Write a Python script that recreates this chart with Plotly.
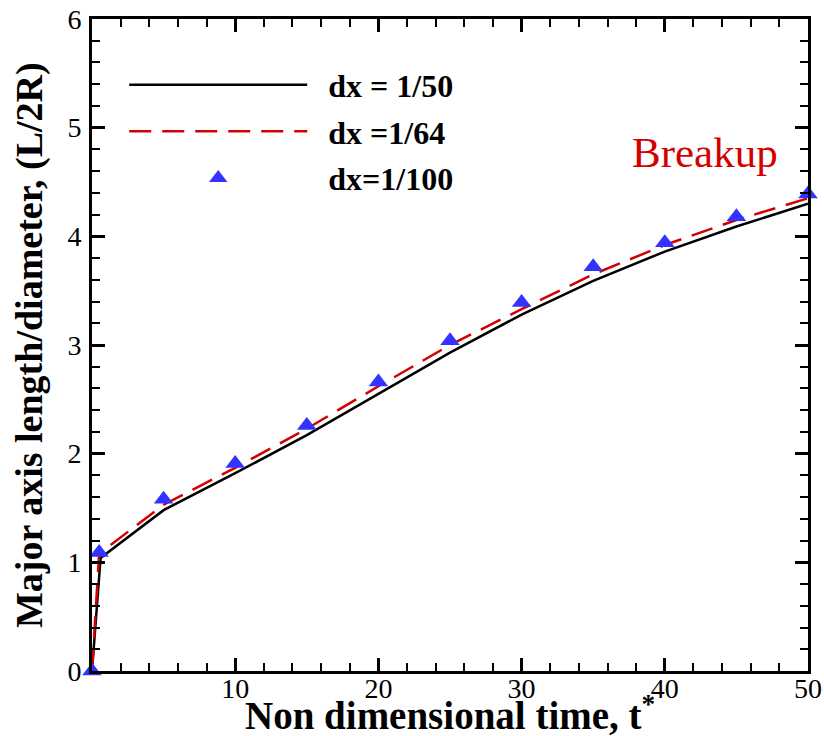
import plotly.graph_objects as go

t_50 = [0, 0.6, 5, 10, 15, 20, 25, 30, 35, 40, 45, 50]
L_50 = [0, 1.04, 1.48, 1.82, 2.17, 2.55, 2.93, 3.28, 3.59, 3.86, 4.09, 4.30]

t_64 = [0, 0.5, 5, 10, 15, 20, 25, 30, 35, 40, 45, 50]
L_64 = [0, 1.08, 1.53, 1.87, 2.23, 2.62, 3.00, 3.33, 3.65, 3.92, 4.15, 4.35]

t_100 = [0, 0.5, 5, 10, 15, 20, 25, 30, 35, 40, 45, 50]
L_100 = [0, 1.09, 1.58, 1.91, 2.26, 2.66, 3.04, 3.39, 3.72, 3.94, 4.18, 4.39]

x_ticks = [10, 20, 30, 40, 50]
y_ticks = [0, 1, 2, 3, 4, 5, 6]

FONT = "Liberation Serif"
NB = "\u00a0\u00a0"

fig = go.Figure()
fig.add_trace(go.Scatter(x=t_50, y=L_50, mode="lines", name=NB + "dx = 1/50",
                         line=dict(color="black", width=2.5), legendgroup="a"))
fig.add_trace(go.Scatter(x=t_64, y=L_64, mode="lines", name=NB + "dx =1/64",
                         line=dict(color="#d40000", width=2.5, dash="22px,11px"), legendgroup="b"))
fig.add_trace(go.Scatter(x=t_100, y=L_100, mode="markers", name=NB + "dx=1/100",
                         marker=dict(symbol="triangle-up", size=17, color="#3333ff"),
                         cliponaxis=False, legendgroup="c"))
# invisible trace so the mirrored (top/right) axes carrying minor ticks are drawn
fig.add_trace(go.Scatter(x=t_50, y=L_50, xaxis="x2", yaxis="y2", mode="markers",
                         marker=dict(opacity=0), showlegend=False, hoverinfo="skip"))

fig.add_annotation(x=42.8, y=4.77, text="Breakup", showarrow=False,
                   font=dict(family=FONT, size=43, color="#d40000"))

# axis titles as annotations for exact placement
fig.add_annotation(x=0.5, y=0, xref="paper", yref="paper", yanchor="middle",
                   yshift=-42, showarrow=False,
                   text="<b>Non dimensional time, t<sup>*</sup></b>",
                   font=dict(family=FONT, size=39, color="black"))
fig.add_annotation(x=0, y=0.5, xref="paper", yref="paper", xanchor="center",
                   xshift=-63, showarrow=False, textangle=-90,
                   text="<b>Major axis length/diameter, (L/2R)</b>",
                   font=dict(family=FONT, size=38, color="black"))

common = dict(showgrid=False, zeroline=False, tickcolor="black")

fig.update_layout(
    width=824, height=736,
    margin=dict(l=92, r=16, t=19, b=65),
    plot_bgcolor="white", paper_bgcolor="white",
    font=dict(family=FONT, color="black"),
    showlegend=True,
    legend=dict(x=0.045, y=0.941, xanchor="left", yanchor="top",
                font=dict(family=FONT, size=32, color="black", weight="bold"),
                itemwidth=178, tracegroupgap=2, bgcolor="rgba(0,0,0,0)"),
    xaxis=dict(range=[0, 50], tickvals=x_ticks, ticks="inside", ticklen=13, tickwidth=3,
               showline=True, linecolor="black", linewidth=3, mirror=True,
               tickfont=dict(family=FONT, size=28), ticklabelstandoff=-10, automargin=False,
               minor=dict(ticks="inside", dtick=2, ticklen=8, tickwidth=1.5, tickcolor="black"),
               **common),
    yaxis=dict(range=[0, 6], tickvals=y_ticks, ticks="inside", ticklen=13, tickwidth=3,
               showline=True, linecolor="black", linewidth=3, mirror=True,
               tickfont=dict(family=FONT, size=28), ticklabelstandoff=2, automargin=False,
               minor=dict(ticks="inside", dtick=0.2, ticklen=8, tickwidth=1.5, tickcolor="black"),
               **common),
    xaxis2=dict(range=[0, 50], tickvals=x_ticks, overlaying="x", side="top", anchor="y2",
                ticks="inside", ticklen=13, tickwidth=3, showticklabels=False, showline=False,
                automargin=False,
                minor=dict(ticks="inside", dtick=2, ticklen=8, tickwidth=1.5, tickcolor="black"),
                **common),
    yaxis2=dict(range=[0, 6], tickvals=y_ticks, overlaying="y", side="right", anchor="x2",
                ticks="inside", ticklen=13, tickwidth=3, showticklabels=False, showline=False,
                automargin=False,
                minor=dict(ticks="inside", dtick=0.2, ticklen=8, tickwidth=1.5, tickcolor="black"),
                **common),
)

fig.write_html("out.html", config={"displayModeBar": False},
               post_script="document.body.style.margin='0px';")
